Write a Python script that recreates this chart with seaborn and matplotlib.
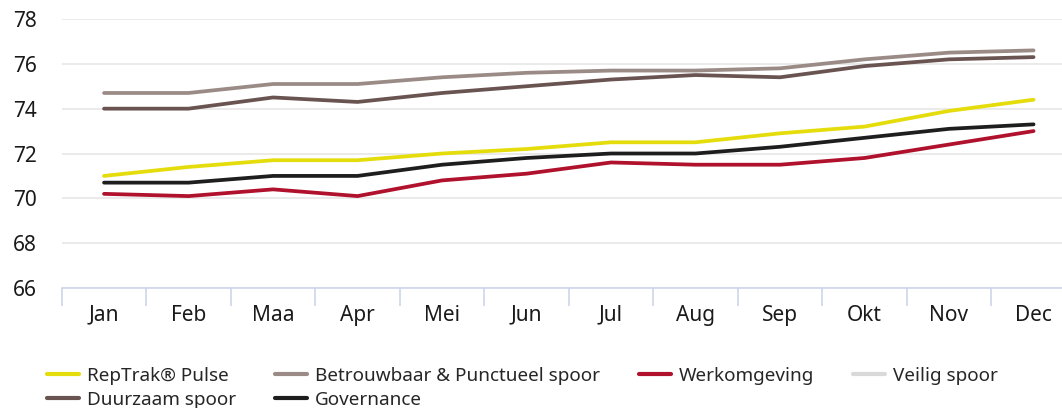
import numpy as np
import pandas as pd
import seaborn as sns
import matplotlib.pyplot as plt
from matplotlib.lines import Line2D

# categories and series
months = ["Jan", "Feb", "Maa", "Apr", "Mei", "Jun", "Jul", "Aug", "Sep", "Okt", "Nov", "Dec"]
reptrak = [71.0, 71.4, 71.7, 71.7, 72.0, 72.2, 72.5, 72.5, 72.9, 73.2, 73.9, 74.4]
betrouwbaar = [74.7, 74.7, 75.1, 75.1, 75.4, 75.6, 75.7, 75.7, 75.8, 76.2, 76.5, 76.6]
werkomgeving = [70.2, 70.1, 70.4, 70.1, 70.8, 71.1, 71.6, 71.5, 71.5, 71.8, 72.4, 73.0]
veilig = [np.nan] * 12  # not visible in the chart
duurzaam = [74.0, 74.0, 74.5, 74.3, 74.7, 75.0, 75.3, 75.5, 75.4, 75.9, 76.2, 76.3]
governance = [70.7, 70.7, 71.0, 71.0, 71.5, 71.8, 72.0, 72.0, 72.3, 72.7, 73.1, 73.3]

series_names = ["RepTrak® Pulse", "Betrouwbaar & Punctueel spoor", "Werkomgeving",
                "Veilig spoor", "Duurzaam spoor", "Governance"]
colors = {
    "RepTrak® Pulse": "#e5dc0c",
    "Betrouwbaar & Punctueel spoor": "#9b8b87",
    "Werkomgeving": "#b0112d",
    "Veilig spoor": "#d9d9d9",
    "Duurzaam spoor": "#6a5452",
    "Governance": "#1e1e1e",
}

values = [reptrak, betrouwbaar, werkomgeving, veilig, duurzaam, governance]
rows = []
for name, vals in zip(series_names, values):
    for i, (m, v) in enumerate(zip(months, vals)):
        rows.append({"idx": i, "month": m, "value": v, "serie": name})
df = pd.DataFrame(rows).dropna()

sns.set_style("white")
plt.rcParams["font.family"] = ["Noto Sans", "DejaVu Sans"]

fig = plt.figure(figsize=(10.62, 4.08), dpi=100)
ax = fig.add_axes([61.8 / 1062, 120 / 408, 1014 / 1062, 269 / 408])

sns.lineplot(data=df, x="idx", y="value", hue="serie", hue_order=series_names,
             palette=colors, linewidth=2.7, legend=False, ax=ax, zorder=3)

ax.set_xlim(-0.5, 11.5)
ax.set_ylim(66, 78)
ax.set_yticks(range(66, 79, 2))
ax.set_xticks(range(12))
ax.set_xticklabels(months)
ax.set_xticks(np.arange(-0.5, 12, 1), minor=True)
ax.set_xlabel("")
ax.set_ylabel("")

ax.grid(axis="y", color="#e6e6e6", linewidth=1.2, zorder=0)
ax.grid(axis="x", visible=False)
for s in ["top", "right", "left"]:
    ax.spines[s].set_visible(False)
ax.spines["bottom"].set_color("#ccd6eb")
ax.spines["bottom"].set_linewidth(1.2)
ax.spines["bottom"].set_zorder(4)

ax.tick_params(axis="x", which="major", bottom=True, length=0, pad=12, labelsize=15, labelcolor="#1a1a1a")
ax.tick_params(axis="x", which="minor", bottom=True, length=13, width=1.2, color="#ccd6eb", direction="out")
ax.tick_params(axis="y", length=0, pad=18, labelsize=15, labelcolor="#1a1a1a")

# legend, row-major like the original
order = ["RepTrak® Pulse", "Duurzaam spoor", "Betrouwbaar & Punctueel spoor",
         "Governance", "Werkomgeving", "Veilig spoor"]
handles = [Line2D([], [], color=colors[n], linewidth=3) for n in order]
fig.legend(handles, order, ncol=4, loc="upper left", bbox_to_anchor=(47 / 1062, 1 - 367 / 408),
           frameon=False, fontsize=13.6, handlelength=1.7, handletextpad=0.42,
           columnspacing=2.05, labelspacing=0.3, borderaxespad=0, borderpad=0)

fig.savefig("out.png", dpi=100)
